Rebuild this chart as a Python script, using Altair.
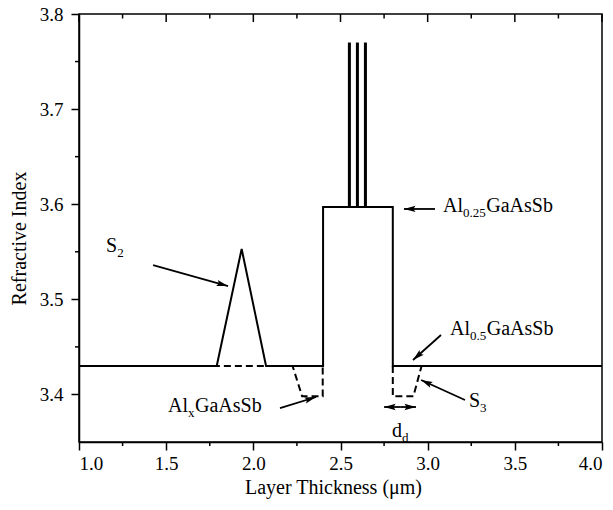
import math
import altair as alt
import pandas as pd

# ---------------- data ----------------
solid_x = [1.0, 1.79, 1.933, 2.073, 2.4, 2.4, 2.8, 2.8, 4.0]
solid_y = [3.43, 3.43, 3.553, 3.43, 3.43, 3.597, 3.597, 3.43, 3.43]

dash_left_x = [1.2, 2.225, 2.28, 2.398, 2.398]
dash_left_y = [3.43, 3.43, 3.398, 3.398, 3.43]
dash_right_x = [2.8, 2.8, 2.918, 2.965, 4.0]
dash_right_y = [3.43, 3.398, 3.398, 3.43, 3.43]

spike_x = [2.551, 2.597, 2.643]
spike_base = 3.597
spike_top = 3.77

x_major = [1.0, 1.5, 2.0, 2.5, 3.0, 3.5, 4.0]
x_minor = [1.25, 1.75, 2.25, 2.75, 3.25, 3.75]
y_major = [3.4, 3.5, 3.6, 3.7, 3.8]
y_minor = [3.45, 3.55, 3.65, 3.75]

# annotations: anchor (x, y) in data units, parts (text, is_subscript)
ann_labels = [
    (1.155, 3.5498, [("S", False), ("2", True)]),
    (3.088, 3.5918, [("Al", False), ("0.25", True), ("GaAsSb", False)]),
    (3.128, 3.4625, [("Al", False), ("0.5", True), ("GaAsSb", False)]),
    (1.5105, 3.3815, [("Al", False), ("x", True), ("GaAsSb", False)]),
    (3.237, 3.3868, [("S", False), ("3", True)]),
    (2.7955, 3.3552, [("d", False), ("d", True)]),
]
# arrows: start x, start y, tip x, tip y
arrows = [
    (1.425, 3.536, 1.855, 3.514),
    (3.042, 3.595, 2.864, 3.595),
    (3.0765, 3.4625, 2.916, 3.4362),
    (2.153, 3.3857, 2.36, 3.3973),
    (3.214, 3.3942, 2.962, 3.4152),
    (2.842, 3.3868, 2.75, 3.3868),
    (2.842, 3.3868, 2.933, 3.3868),
]

# ---------------- layout ----------------
W, H = 523, 428
XD, YD = [1.0, 4.0], [3.35, 3.8]
FONT = "Liberation Serif"
MAIN, SUB = 20, 13
LABEL_SIZE = 19

xs = alt.Scale(domain=XD, nice=False, zero=False)
ys = alt.Scale(domain=YD, nice=False, zero=False)
xaxis = alt.Axis(values=x_major, format=".1f", title="Layer Thickness (μm)",
                 tickSize=8, labelPadding=4, titleX=254, titleY=51,
                 labelFont=FONT, labelFontSize=LABEL_SIZE, labelColor="black",
                 titleFont=FONT, titleFontSize=20, titleFontWeight="normal", titleColor="black",
                 titleBaseline="alphabetic", titleAnchor="middle", titleAlign="center")
yaxis = alt.Axis(values=y_major, format=".1f", title="Refractive Index",
                 tickSize=8, labelPadding=8, titleX=-54, titleY=224,
                 labelFont=FONT, labelFontSize=LABEL_SIZE, labelColor="black",
                 titleFont=FONT, titleFontSize=20, titleFontWeight="normal", titleColor="black",
                 titleBaseline="alphabetic", titleAngle=-90,
                 titleAnchor="middle", titleAlign="center")


def X(f):
    return alt.X(f, type="quantitative", scale=xs, axis=xaxis)


def Y(f):
    return alt.Y(f, type="quantitative", scale=ys, axis=yaxis)


rows = []
for i, (x, y) in enumerate(zip(dash_left_x, dash_left_y)):
    rows.append({"seg": "L", "i": i, "x": x, "y": y})
for i, (x, y) in enumerate(zip(dash_right_x, dash_right_y)):
    rows.append({"seg": "R", "i": i, "x": x, "y": y})
dash_df = pd.DataFrame(rows)
solid_df = pd.DataFrame({"i": range(len(solid_x)), "x": solid_x, "y": solid_y})
spike_df = pd.DataFrame({"x": spike_x, "y": [spike_base] * 3, "y2": [spike_top] * 3})

dashed = alt.Chart(dash_df).mark_line(color="black", strokeWidth=2, strokeDash=[7, 4]).encode(
    x=X("x"), y=Y("y"), detail="seg:N", order="i:Q")
solid = alt.Chart(solid_df).mark_line(color="black", strokeWidth=2, strokeJoin="miter").encode(
    x=X("x"), y=Y("y"), order="i:Q")
spikes = alt.Chart(spike_df).mark_rule(color="black", strokeWidth=3).encode(
    x=X("x"), y=Y("y"), y2="y2")

bot_minor = alt.Chart(pd.DataFrame({"x": x_minor})).mark_rule(color="black", strokeWidth=1.5).encode(
    x=X("x"), y=alt.value(H), y2=alt.value(H + 4))
top_major = alt.Chart(pd.DataFrame({"x": x_major})).mark_rule(color="black", strokeWidth=1.5).encode(
    x=X("x"), y=alt.value(0), y2=alt.value(8))
top_minor = alt.Chart(pd.DataFrame({"x": x_minor})).mark_rule(color="black", strokeWidth=1.5).encode(
    x=X("x"), y=alt.value(0), y2=alt.value(4.5))
left_minor = alt.Chart(pd.DataFrame({"y": y_minor})).mark_rule(color="black", strokeWidth=1.5).encode(
    y=Y("y"), x=alt.value(0), x2=alt.value(-4))

# arrows
px_per_x = W / (XD[1] - XD[0])
px_per_y = H / (YD[1] - YD[0])
arow = []
for (x1, y1, x2, y2) in arrows:
    dx = (x2 - x1) * px_per_x
    dy = -(y2 - y1) * px_per_y
    ang = math.degrees(math.atan2(dx, -dy)) % 360
    arow.append({"x": x1, "y": y1, "x2": x2, "y2": y2, "angle": ang})
arrow_df = pd.DataFrame(arow)
arrow_lines = alt.Chart(arrow_df).mark_rule(color="black", strokeWidth=1.8).encode(
    x=X("x"), y=Y("y"), x2="x2", y2="y2")
head_path = "M0,0L0.6,2.2L0,1.8L-0.6,2.2Z"
arrow_heads = alt.Chart(arrow_df).mark_point(
    shape=head_path, filled=True, color="black", opacity=1, size=110, strokeWidth=0).encode(
    x=X("x2"), y=Y("y2"), angle=alt.Angle("angle:Q", scale=None))

# text annotations
CW = {"A": .722, "l": .278, "G": .722, "a": .444, "s": .389, "S": .556, "b": .5,
      ".": .25, "x": .5, "d": .5}


def width(t, size):
    return sum(CW.get(c, .5) for c in t) * size


text_layers = []
for (x, y, parts) in ann_labels:
    off = 0.0
    for (t, sub) in parts:
        size = SUB if sub else MAIN
        text_layers.append(
            alt.Chart(pd.DataFrame({"x": [x], "y": [y], "t": [t]})).mark_text(
                font=FONT, fontSize=size, color="black", align="left",
                baseline="alphabetic", dx=off, dy=5 if sub else 0).encode(
                x=X("x"), y=Y("y"), text="t:N"))
        off += width(t, size) + (0.5 if sub else 0)

chart = alt.layer(
    dashed, solid, spikes, bot_minor, top_major, top_minor, left_minor,
    arrow_lines, arrow_heads, *text_layers
).properties(
    width=W, height=H,
    padding={"left": 79, "top": 14, "right": 11, "bottom": 68},
    autosize=alt.AutoSizeParams(type="none"),
    background="white",
).configure_view(
    stroke="black", strokeWidth=1.5
).configure_axis(
    grid=False, domainColor="black", domainWidth=1.5, tickColor="black", tickWidth=1.5,
    labelFont=FONT, labelFontSize=LABEL_SIZE, labelColor="black",
    titleFont=FONT, titleFontSize=20, titleFontWeight="normal", titleColor="black",
)

chart.save("out.html", embed_options={"renderer": "svg", "actions": False})
